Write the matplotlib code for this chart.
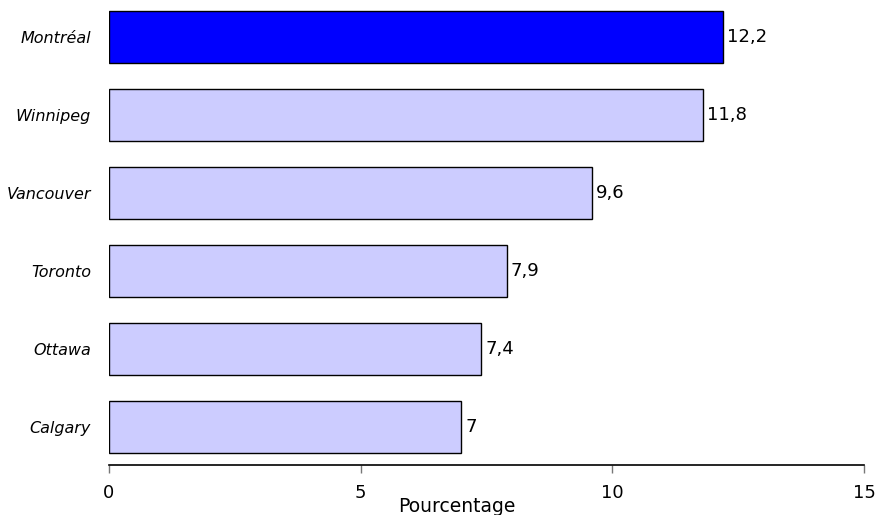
import matplotlib.pyplot as plt

villes = ["Calgary", "Ottawa", "Toronto", "Vancouver", "Winnipeg", "Montréal"]
valeurs = [7.0, 7.4, 7.9, 9.6, 11.8, 12.2]
etiquettes = ["7", "7,4", "7,9", "9,6", "11,8", "12,2"]
couleurs = ["#ccccff"] * 5 + ["#0000ff"]

fig = plt.figure(figsize=(8.92, 5.15), dpi=100)
ax = fig.add_axes([109 / 892, 1 - 465 / 515, (864 - 109) / 892, 465 / 515])

pos = range(len(villes))
ax.barh(pos, valeurs, height=0.667, color=couleurs, edgecolor="black", linewidth=1)

for y, v, t in zip(pos, valeurs, etiquettes):
    ax.annotate(t, (v, y), xytext=(3, 0), textcoords="offset points",
                va="center", ha="left", fontsize=13)

ax.set_xlim(0, 15)
ax.set_ylim(-0.49, 5.47)
ax.set_xticks([0, 5, 10, 15])
ax.set_yticks(list(pos))
ax.set_yticklabels(villes, fontstyle="italic", fontsize=11.5)
ax.tick_params(axis="y", length=0, pad=13)
ax.tick_params(axis="x", length=6, width=1, color="#777777", pad=8, labelsize=13)

for s in ["top", "right", "left"]:
    ax.spines[s].set_visible(False)
ax.spines["bottom"].set_linewidth(1.2)

fig.text(457 / 892, 1 - 507 / 515, "Pourcentage", ha="center", va="center", fontsize=13.5)

fig.savefig("out.png", dpi=100)
